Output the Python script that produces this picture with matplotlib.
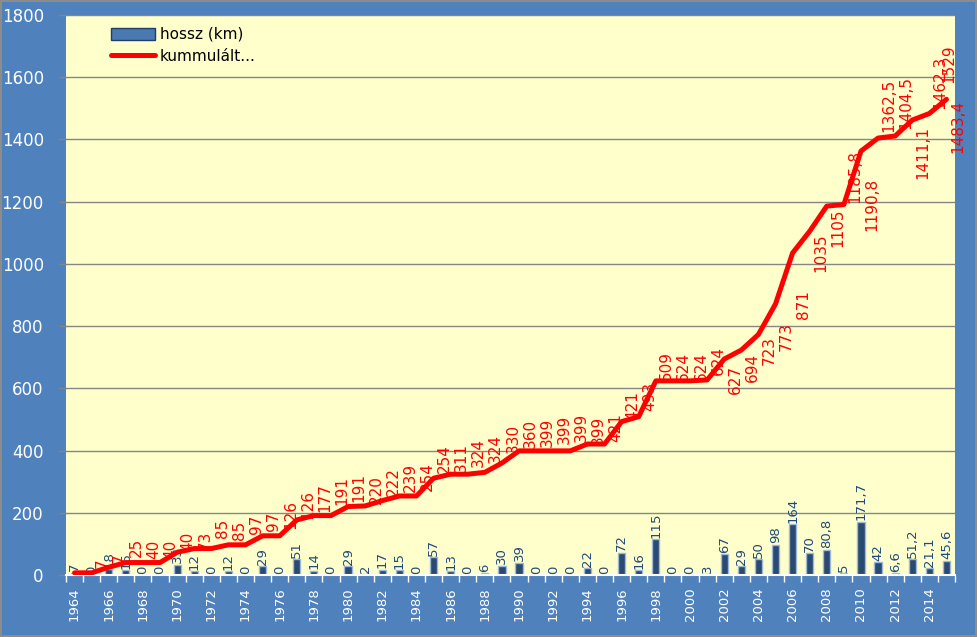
# Annual and cumulative length chart (1964-2015)

import numpy as np
import matplotlib
matplotlib.use('Agg')
import matplotlib.pyplot as plt
from matplotlib.patches import Patch
from matplotlib.lines import Line2D


# Data
years = list(range(1964, 2016))

hossz = [7, 0, 18, 15, 0, 0, 33, 12, 0, 12, 0, 29, 0, 51, 14, 0, 29, 2, 17, 15,
         0, 57, 13, 0, 6, 30, 39, 0, 0, 0, 22, 0, 72, 16, 115, 0, 0, 3, 67, 29,
         50, 98, 164, 70, 80.8, 5, 171.7, 42, 6.6, 51.2, 21.1, 45.6]

kumulalt = [7, 7, 25, 40, 40, 40, 73, 85, 85, 97, 97, 126, 126, 177, 191, 191,
            220, 222, 239, 254, 254, 311, 324, 324, 330, 360, 399, 399, 399, 399,
            421, 421, 493, 509, 624, 624, 624, 627, 694, 723, 773, 871, 1035,
            1105, 1185.8, 1190.8, 1362.5, 1404.5, 1411.1, 1462.3, 1483.4, 1529]

series_names = ['hossz (km)', 'kummulált...']

# how far (in pixels) each red label sits above its point
label_lift = [10, 15, 20, 13, 13, 21, 12, 20, 18, 21, 24, 21, 31, 22, 25, 28,
              17, 24, 23, 19, 37, 21, 22, 26, 34, 30, 18, 21, 23, 20, 16, 38,
              25, 51, 14, 14, 20, 0, -8, 0, -2, -1, 0, 3, 30, 0, 46, 36, -17,
              38, -13, 36]
# red labels sit right of the point, except the last one
label_shift = {2015: 2}


def fmt(v):
    if float(v) == int(v):
        return str(int(v))
    return ('%.1f' % v).replace('.', ',')


# Colours
bg_blue = '#4F81BD'
plot_bg = '#FFFFCC'
bar_face = '#2B4A72'
bar_edge = '#9DB7D8'
label_blue = '#1F497D'
grid_grey = '#868686'

px = 72.0 / 100.0   # pixels -> points at dpi 100

fig = plt.figure(figsize=(9.77, 6.37), dpi=100, facecolor=bg_blue,
                 edgecolor='#8C8C8C', linewidth=1.5)
axes = fig.add_axes([66/977, 1 - 575/637, (955-66)/977, (575-15)/637])
axes.set_facecolor(plot_bg)

x = np.arange(len(years))

# Bars
axes.bar(x, hossz, width=0.42, color=bar_face, edgecolor=bar_edge,
         linewidth=1.0, zorder=2)

# Bar labels
for xi, v in zip(x, hossz):
    axes.annotate(fmt(v), (xi, v), xytext=(0, 1), textcoords='offset points',
                  rotation=90, ha='center', va='bottom', fontsize=9.5,
                  color=label_blue, zorder=3)

# Cumulative line
axes.plot(x, kumulalt, color='#FF0000', linewidth=3.6, solid_joinstyle='round',
          solid_capstyle='round', zorder=4)

# Line labels
for xi, yr, v, lift in zip(x, years, kumulalt, label_lift):
    dx = label_shift.get(yr, 28)
    axes.annotate(fmt(v), (xi, v), xytext=(dx * px, lift * px),
                  textcoords='offset points', rotation=90, ha='center',
                  va='center', fontsize=11, color='#FF0000', zorder=5)

# Axes and grid
axes.set_xlim(-0.5, len(years) - 0.5)
axes.set_ylim(0, 1800)
axes.set_yticks(np.arange(0, 1801, 200))
axes.yaxis.grid(True, color=grid_grey, linewidth=1.0, zorder=0)
axes.set_axisbelow(True)

for side in ['top', 'right', 'left']:
    axes.spines[side].set_visible(False)
axes.spines['bottom'].set_color('white')
axes.spines['bottom'].set_linewidth(1.5)

axes.tick_params(axis='y', colors=grid_grey, length=5, width=1, pad=11,
                 labelcolor='white', labelsize=12)

axes.set_xticks(np.arange(-0.5, len(years), 1.0))
axes.set_xticklabels([])
axes.tick_params(axis='x', which='major', colors='white', length=5, width=1)
axes.set_xticks(x[::2], minor=True)
axes.set_xticklabels([str(y) for y in years[::2]], minor=True, rotation=90)
axes.tick_params(axis='x', which='minor', length=0, pad=9, labelcolor='white',
                 labelsize=9.5)

# Legend
handles = [Patch(facecolor='#4A78B0', edgecolor='#1F3D66', linewidth=1.0),
           Line2D([0], [0], color='#FF0000', linewidth=3.6,
                  solid_capstyle='round')]
axes.legend(handles, series_names, loc='upper left', bbox_to_anchor=(0.04, 0.995),
            frameon=False, fontsize=11, handlelength=2.9, handleheight=0.8,
            handletextpad=0.3, labelspacing=0.45, borderaxespad=0.2)

fig.savefig('out.png', dpi=100, facecolor=fig.get_facecolor(),
            edgecolor=fig.get_edgecolor())
